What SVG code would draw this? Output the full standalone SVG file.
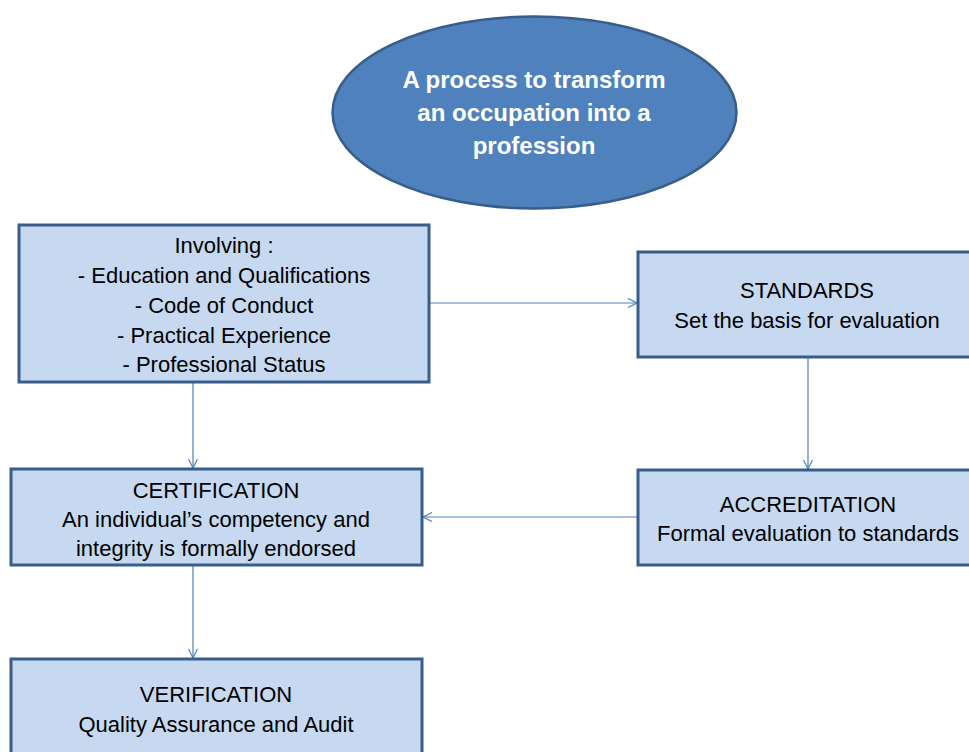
<svg xmlns="http://www.w3.org/2000/svg" width="969" height="752" viewBox="0 0 969 752">
<defs>
<style>
.box{fill:#C6D9F1;stroke:#385D8A;stroke-width:3}
.t{font-family:"Liberation Sans",Arial,sans-serif;font-size:22px;fill:#000;text-anchor:middle}
.h{font-family:"Liberation Sans",Arial,sans-serif;font-size:24px;font-weight:bold;fill:#fff;text-anchor:middle}
.c{fill:none;stroke:#4F81BD;stroke-width:1.2}
</style>
<marker id="arr" viewBox="0 0 10 10" refX="10" refY="5" markerWidth="10" markerHeight="10" markerUnits="userSpaceOnUse" orient="auto">
<path d="M1,0.5 L10,5 L1,9.5" fill="none" stroke="#4F81BD" stroke-width="1.2"/>
</marker>
</defs>
<rect width="969" height="752" fill="#fff"/>
<g id="connectors">
<line class="c" x1="429" y1="303" x2="637" y2="303" marker-end="url(#arr)"/>
<line class="c" x1="193" y1="382" x2="193" y2="468" marker-end="url(#arr)"/>
<line class="c" x1="808" y1="357" x2="808" y2="469" marker-end="url(#arr)"/>
<line class="c" x1="638" y1="517" x2="423" y2="517" marker-end="url(#arr)"/>
<line class="c" x1="193" y1="565" x2="193" y2="658" marker-end="url(#arr)"/>
</g>
<g id="process">
<ellipse cx="534.5" cy="112.5" rx="202" ry="96" fill="#4F81BD" stroke="#385D8A" stroke-width="2.5"/>
<text class="h" x="534" y="88">A process to transform</text>
<text class="h" x="534" y="121">an occupation into a</text>
<text class="h" x="534" y="154">profession</text>
</g>
<g id="involving">
<rect class="box" x="19" y="225" width="410" height="157"/>
<text class="t" x="224" y="253">Involving :</text>
<text class="t" x="224" y="283">- Education and Qualifications</text>
<text class="t" x="224" y="313">- Code of Conduct</text>
<text class="t" x="224" y="343">- Practical Experience</text>
<text class="t" x="224" y="372">- Professional  Status</text>
</g>
<g id="standards">
<rect class="box" x="638" y="252" width="340" height="105"/>
<text class="t" x="807" y="298">STANDARDS</text>
<text class="t" x="807" y="328">Set the basis for evaluation</text>
</g>
<g id="certification">
<rect class="box" x="11" y="469" width="411" height="96"/>
<text class="t" x="216" y="498">CERTIFICATION</text>
<text class="t" x="216" y="527">An individual’s competency  and</text>
<text class="t" x="216" y="556">integrity is formally  endorsed</text>
</g>
<g id="accreditation">
<rect class="box" x="638" y="470" width="340" height="95"/>
<text class="t" x="808" y="512">ACCREDITATION</text>
<text class="t" x="808" y="541">Formal evaluation to standards</text>
</g>
<g id="verification">
<rect class="box" x="11" y="659" width="411" height="110"/>
<text class="t" x="216" y="702">VERIFICATION</text>
<text class="t" x="216" y="732">Quality Assurance  and Audit</text>
</g>
</svg>
